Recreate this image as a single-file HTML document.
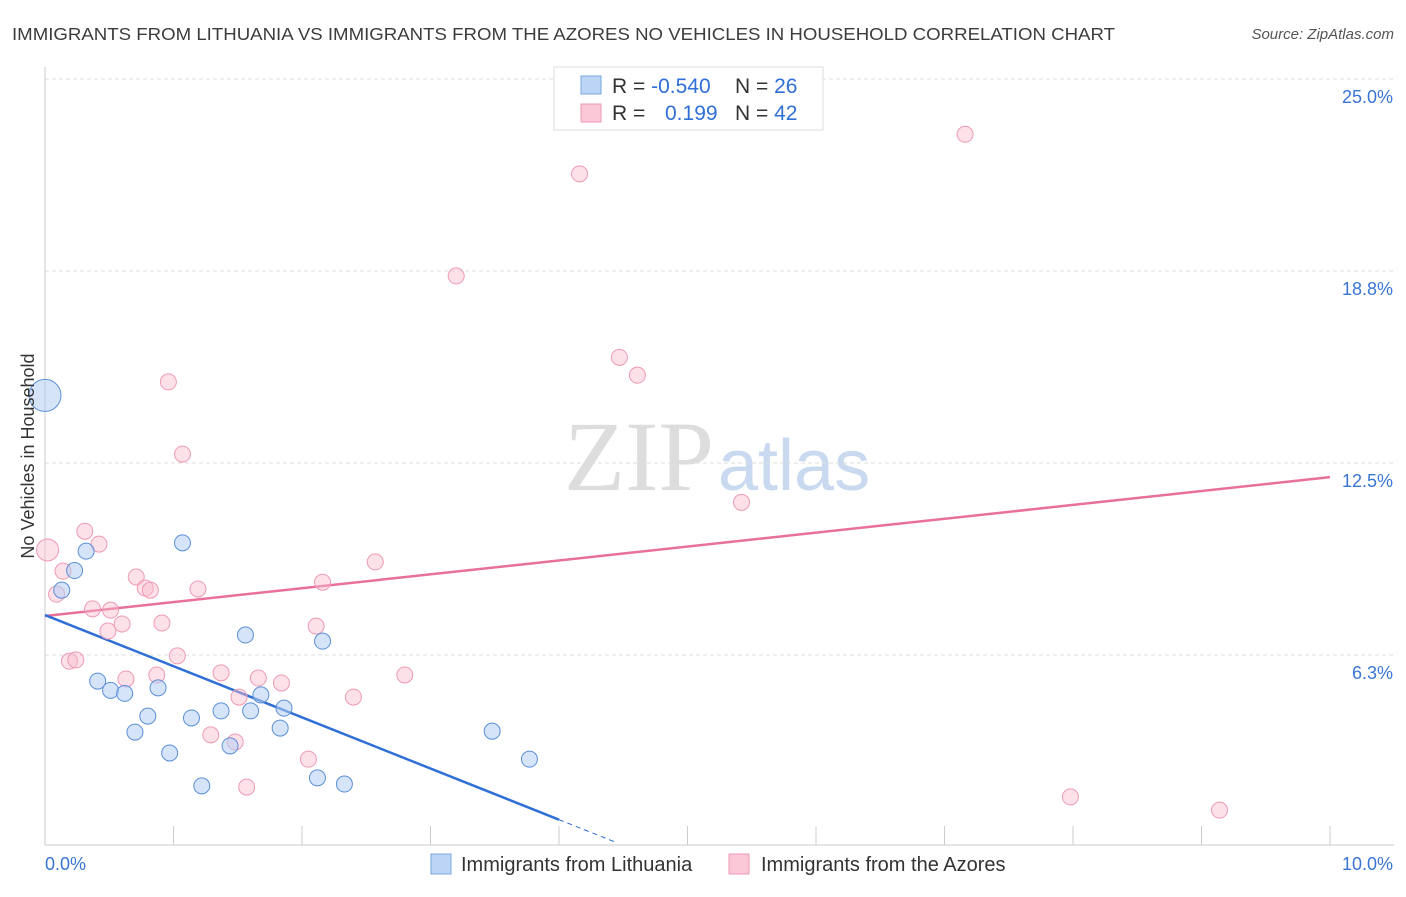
<!DOCTYPE html>
<html><head><meta charset="utf-8"><style>
body{margin:0;background:#fff;font-family:"Liberation Sans",sans-serif;}
</style></head><body>
<svg id="chart" width="1406" height="892" viewBox="0 0 1406 892" style="font-family:'Liberation Sans',sans-serif">
<text x="12" y="40" font-size="17.5" fill="#3c3c3c" textLength="1103" lengthAdjust="spacingAndGlyphs">IMMIGRANTS FROM LITHUANIA VS IMMIGRANTS FROM THE AZORES NO VEHICLES IN HOUSEHOLD CORRELATION CHART</text>
<text x="1394" y="39" font-size="15" fill="#555" font-style="italic" text-anchor="end">Source: ZipAtlas.com</text>
<text x="714" y="490" font-size="100" fill="#ddd" text-anchor="end" style="font-family:'Liberation Serif',serif">ZIP</text>
<text x="718" y="490" font-size="72" fill="#c9d9ef">atlas</text>
<g id="grid"></g>
<g id="axes"></g>
<g id="lines"></g>
<g id="points"></g>
<text transform="translate(34,456) rotate(-90)" font-size="18" fill="#333" text-anchor="middle">No Vehicles in Household</text>
<g>
<rect x="554" y="67" width="269" height="63" fill="#fff" stroke="#ddd"/>
<rect x="581" y="76" width="20" height="18" fill="#bcd4f5" stroke="#7aa7e0"/>
<rect x="581" y="104" width="20" height="18" fill="#fac8d6" stroke="#ee9ab3"/>
<text x="612" y="93" font-size="21" fill="#333">R = <tspan fill="#2f6fd6">-0.540</tspan></text>
<text x="735" y="93" font-size="21" fill="#333">N = <tspan fill="#2f6fd6">26</tspan></text>
<text x="612" y="120" font-size="21" fill="#333">R = </text>
<text x="665" y="120" font-size="21" fill="#2f6fd6">0.199</text>
<text x="735" y="120" font-size="21" fill="#333">N = <tspan fill="#2f6fd6">42</tspan></text>
</g>
<g>
<rect x="431" y="854" width="20" height="20" fill="#bcd4f5" stroke="#7aa7e0"/>
<text x="461" y="871" font-size="20" fill="#333">Immigrants from Lithuania</text>
<rect x="729" y="854" width="20" height="20" fill="#fac8d6" stroke="#ee9ab3"/>
<text x="761" y="871" font-size="20" fill="#333">Immigrants from the Azores</text>
</g>
</svg>
<script>
const yTicks=[6.25,12.5,18.75,25];
const yTickLabels=["6.3%","12.5%","18.8%","25.0%"];
const xTicks=[0,1,2,3,4,5,6,7,8,9,10];
const blueX=[0.0,0.13,0.23,0.32,1.07,0.41,0.51,0.62,0.88,0.80,0.70,0.97,1.14,1.22,1.37,1.44,1.56,1.60,1.68,1.83,1.86,2.12,2.16,2.33,3.48,3.77];
const blueY=[14.7,8.36,9.0,9.63,9.9,5.4,5.1,5.0,5.18,4.26,3.74,3.06,4.2,1.99,4.43,3.29,6.9,4.43,4.95,3.87,4.52,2.25,6.7,2.05,3.77,2.86];
const blueR=[16,8,8,8,8,8,8,8,8,8,8,8,8,8,8,8,8,8,8,8,8,8,8,8,8,8];
const pinkX=[0.02,0.09,0.14,0.31,0.42,0.19,0.24,0.37,0.49,0.51,0.60,0.63,0.71,0.78,0.82,0.87,0.91,0.96,1.03,1.07,1.19,1.29,1.37,1.48,1.51,1.57,1.66,1.84,2.05,2.11,2.16,2.40,2.57,2.80,3.20,4.16,4.47,4.61,5.42,7.16,7.98,9.14];
const pinkY=[9.67,8.23,8.98,10.28,9.86,6.05,6.09,7.75,7.03,7.71,7.26,5.47,8.79,8.43,8.36,5.6,7.29,15.14,6.22,12.79,8.4,3.65,5.67,3.42,4.88,1.95,5.5,5.34,2.86,7.19,8.62,4.88,9.28,5.6,18.59,21.91,15.94,15.36,11.22,23.2,1.63,1.2];
const X0=45,X1=1330,Y0=847,PXY=30.72;
const sx=v=>X0+(X1-X0)*v/10, sy=v=>Y0-v*PXY;
const NS="http://www.w3.org/2000/svg";
function mk(tag,attrs,parent){const e=document.createElementNS(NS,tag);for(const k in attrs)e.setAttribute(k,attrs[k]);parent.appendChild(e);return e;}
const grid=document.getElementById('grid'),axes=document.getElementById('axes'),lines=document.getElementById('lines'),pts=document.getElementById('points');
yTicks.forEach((t,i)=>{
 const l=mk('line',{x1:X0,x2:1394,y1:sy(t),y2:sy(t),stroke:'#ddd','stroke-dasharray':'4,3'},grid);
 
 
 const tx=mk('text',{x:1393,y:sy(t)+24,'font-size':18,fill:'#3a75d4','text-anchor':'end'},axes);
 tx.textContent=yTickLabels[i];
 
 
});
const ya=mk('line',{x1:X0,x2:X0,y1:67,y2:845,stroke:'#ccc'},axes);


const xa=mk('line',{x1:X0,x2:1394,y1:845,y2:845,stroke:'#ccc'},axes);


xTicks.forEach(t=>{
 const l=mk('line',{x1:sx(t),x2:sx(t),y1:826,y2:845,stroke:'#ccc'},axes);
 
 
});
const xl0=mk('text',{x:45,y:870,'font-size':18,fill:'#3a75d4'},axes);xl0.textContent='0.0%';


const xl1=mk('text',{x:1393,y:870,'font-size':18,fill:'#3a75d4','text-anchor':'end'},axes);xl1.textContent='10.0%';


const pinkFit=[7.52,12.04], blueFit=[7.55,-1.665];
const pl=mk('line',{x1:sx(0),y1:sy(pinkFit[0]),x2:sx(10),y2:sy(pinkFit[1]),stroke:'#e8709a','stroke-width':2.5},lines);


const bl=mk('line',{x1:sx(0),y1:sy(blueFit[0]),x2:sx(4.0),y2:sy(blueFit[0]+blueFit[1]*4.0),stroke:'#2f6fd6','stroke-width':2.5},lines);


const bd=mk('line',{x1:sx(4.0),y1:sy(blueFit[0]+blueFit[1]*4.0),x2:sx(4.45),y2:sy(blueFit[0]+blueFit[1]*4.45),stroke:'#2f6fd6','stroke-width':1,'stroke-dasharray':'5,4'},lines);


pinkX.forEach((x,i)=>{
 const c=mk('circle',{cx:sx(x),cy:sy(pinkY[i]),r:i==0?11:8,fill:'rgba(248,188,206,0.45)',stroke:'#ee9ab3','stroke-width':1},pts);
 
 
});
blueX.forEach((x,i)=>{
 const c=mk('circle',{cx:sx(x),cy:sy(blueY[i]),r:blueR[i],fill:'rgba(180,206,244,0.55)',stroke:'#5b8fd9','stroke-width':1},pts);
 
 
});
</script>
</body></html>
